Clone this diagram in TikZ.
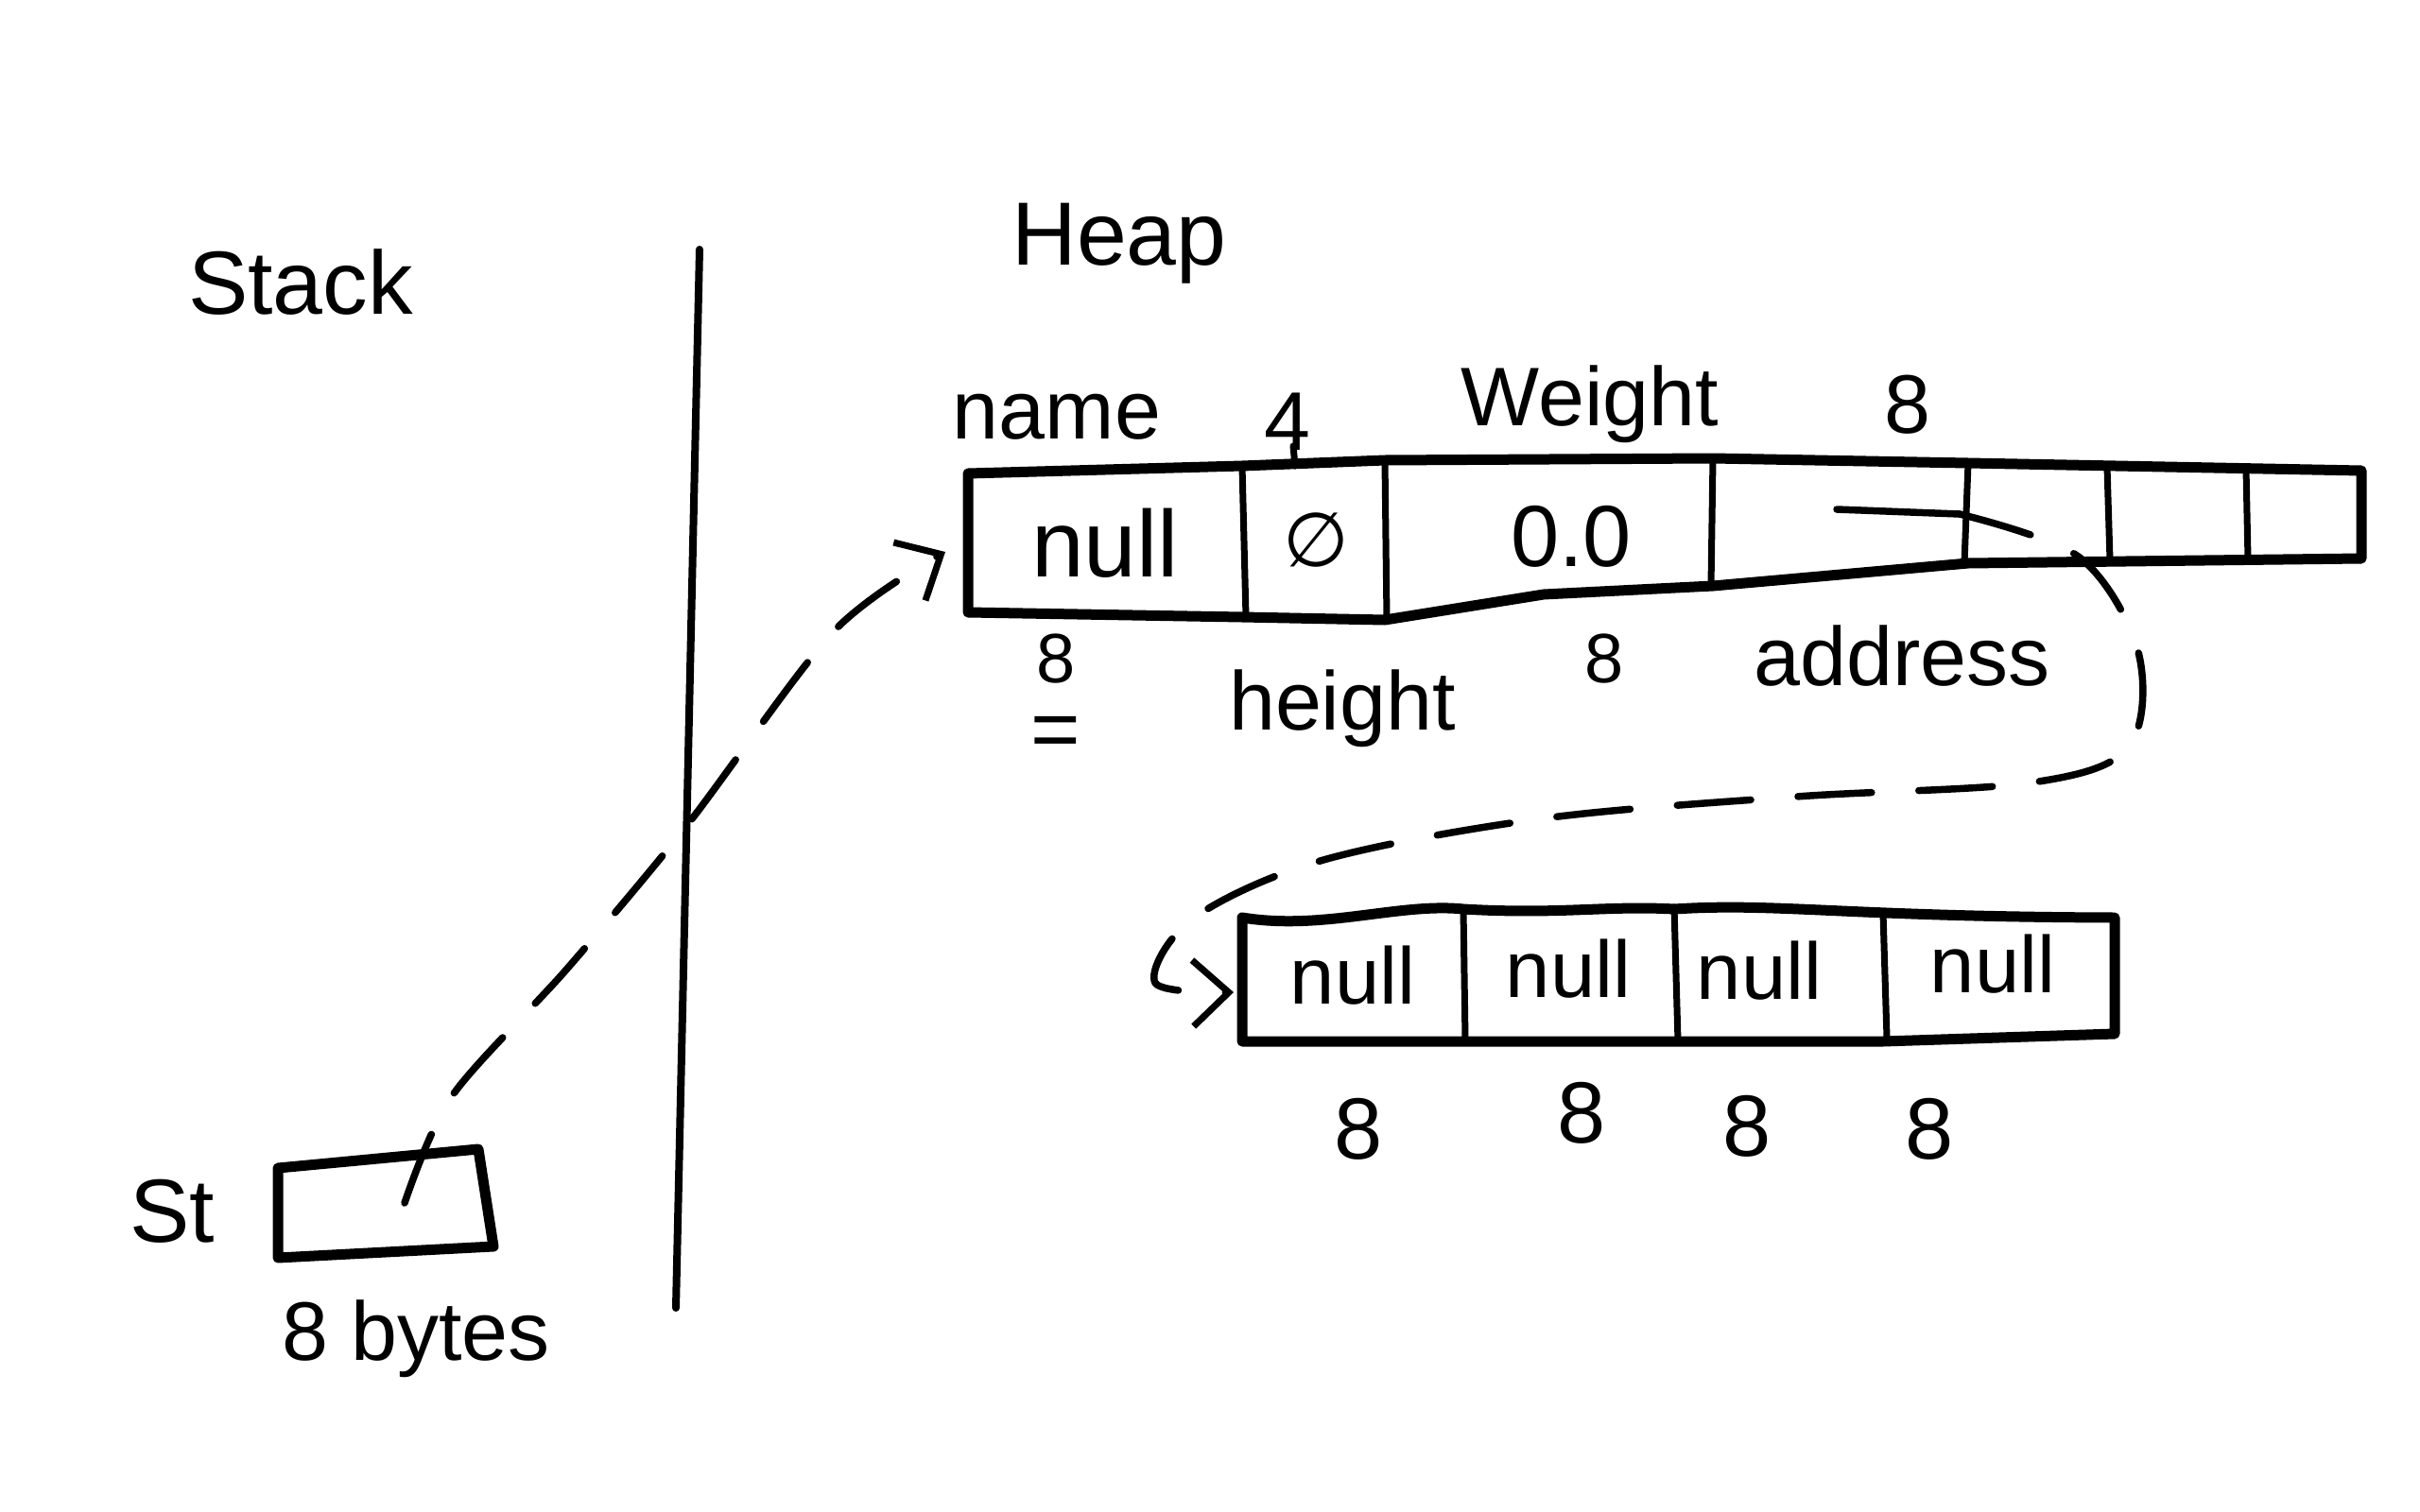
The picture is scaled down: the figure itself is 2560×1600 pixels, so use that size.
\documentclass[tikz,border=0pt]{standalone}
\usepackage{fontspec}
\setmainfont{Liberation Sans}
\newfontfamily\symfont{DejaVu Sans}
\usetikzlibrary{arrows.meta}
\begin{document}
\begin{tikzpicture}[x=1pt,y=-1pt,
  ink/.style={line width=11pt, line join=round, line cap=round},
  thinink/.style={line width=7pt, line cap=round},
  ptr/.style={line width=7.5pt, line cap=round, dash pattern=on 78pt off 50pt, -{Straight Barb[length=38pt,width=70pt,line width=7pt]}},
  lbl/.style={font=\fontsize{88}{100}\selectfont, inner sep=0pt},
  big/.style={font=\fontsize{95}{110}\selectfont, inner sep=0pt},
  val/.style={font=\fontsize{92}{100}\selectfont, inner sep=0pt},
  small/.style={font=\fontsize{74}{80}\selectfont, inner sep=0pt}]
\useasboundingbox[fill=white] (0,0) rectangle (2560,1600);

% titles and divider
\node[big] (stacklbl) at (318,299) {Stack};
\node[big] (heaplbl) at (1184,258) {Heap};
\coordinate (divtop) at (740,264);
\coordinate (divbot) at (715,1384);
\draw[thinink, line width=8pt] (divtop) -- (divbot);

% stack variable
\node[big] (stlbl) at (182,1282) {St};
\draw[ink] (294,1236) -- (506,1216) -- (522,1319) -- (294,1331) -- cycle;
\node[inner sep=0pt, minimum width=220pt, minimum height=100pt] (stk) at (408,1276) {};
\coordinate (stkptr) at (428,1273);
\node[lbl] (bytes) at (440,1417) {8 bytes};

% heap object outline
\draw[ink] (1024,501) -- (1314,493) -- (1465,487) -- (1812,485) -- (2082,490) -- (2498,498)
  -- (2498,591) -- (2082,596) -- (1812,620) -- (1633,629) -- (1465,656) -- (1314,653) -- (1024,648) -- cycle;
\draw[thinink] (1314,493) -- (1318,653);
\draw[thinink] (1465,487) -- (1467,656);
\draw[thinink] (1812,485) -- (1810,620);
\draw[thinink] (2082,490) -- (2078,596);
\draw[thinink] (2229,494) -- (2232,593);
\draw[thinink] (2376,496) -- (2378,592);

% heap cells (contents)
\node[val, font=\fontsize{100}{110}\selectfont] (cname) at (1169,575) {null};
\node[inner sep=0pt, font=\symfont\fontsize{80}{90}\selectfont] (cfour) at (1392,571) {∅};
\node[val] (cweight) at (1662,568) {0.0};
\node[inner sep=0pt, minimum width=260pt, minimum height=120pt] (caddr) at (1945,552) {};
\coordinate (addrptr) at (1943,539);

% labels above
\node[lbl] (lname) at (1118,441) {name};
\node[lbl] (lfour) at (1362,446) {4};
\draw[thinink] (1368,472) -- (1370,493);
\node[lbl] (lweight) at (1682,428) {Weight};
\node[lbl] (leight) at (2018,428) {8};

% labels below
\node[small, align=center, font=\fontsize{74}{80}\selectfont] (lb8a) at (1117,737) {8\\{\fontsize{90}{80}\selectfont =}};
\node[lbl] (lheight) at (1420,750) {height};
\node[small] (lb8b) at (1697,697) {8};
\node[lbl] (laddr) at (2012,694) {address};

% lower array
\draw[ink] (1314,971) .. controls (1400,985) and (1480,955) .. (1548,962)
  .. controls (1650,968) and (1700,958) .. (1771,962) .. controls (1880,955) and (1950,970) .. (2237,971)
  -- (2237,1094) -- (1992,1102) -- (1314,1102) -- cycle;
\draw[thinink] (1548,962) -- (1550,1100);
\draw[thinink] (1771,960) -- (1775,1102);
\draw[thinink] (1992,966) -- (1996,1098);
\node[val, font=\fontsize{85}{95}\selectfont, minimum width=234pt, minimum height=131pt] (la1) at (1431,1032) {null};
\node[val, font=\fontsize{85}{95}\selectfont] (la2) at (1659,1025) {null};
\node[val, font=\fontsize{85}{95}\selectfont] (la3) at (1861,1027) {null};
\node[val, font=\fontsize{85}{95}\selectfont] (la4) at (2108,1020) {null};
\node[val] (lc1) at (1437,1195) {8};
\node[val] (lc2) at (1673,1178) {8};
\node[val] (lc3) at (1848,1192) {8};
\node[val] (lc4) at (2041,1195) {8};

% pointer: stack -> heap object
\draw[ptr] plot[smooth, tension=0.5] coordinates {(stkptr) (478,1160) (600,1025) (727,873) (882,668) (1000,584)};

% pointer: address field -> lower array
\draw[line width=7.5pt, line cap=round] (addrptr) -- (2073,544);
\draw[ptr] plot[smooth, tension=0.55] coordinates {(2073,544) (2200,590) (2262,690) (2252,790) (2150,828) (1900,843) (1633,866) (1400,910) (1262,972) (1222,1040) (1305,1050)};
\end{tikzpicture}
\end{document}
